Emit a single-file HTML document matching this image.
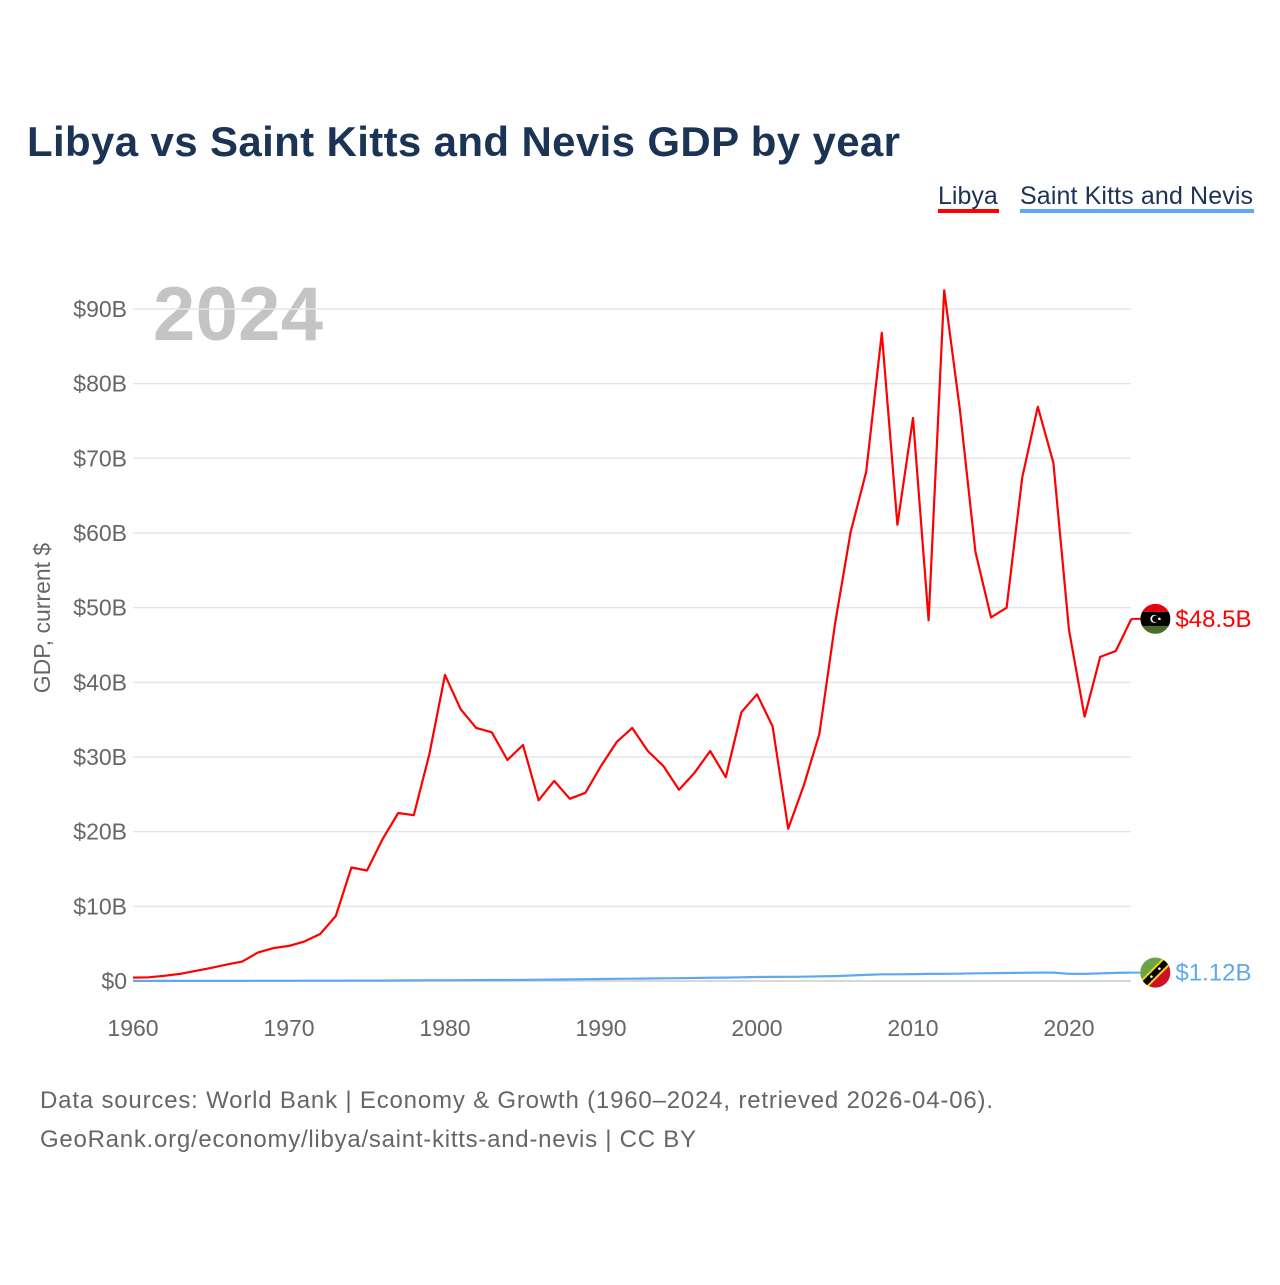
<!DOCTYPE html>
<html><head><meta charset="utf-8"><style>
body{margin:0;background:#fff;font-family:"Liberation Sans",sans-serif;}
svg text{font-family:"Liberation Sans",sans-serif;}
</style></head><body>
<svg id="chart" width="1280" height="1280" viewBox="0 0 1280 1280" xmlns="http://www.w3.org/2000/svg">
<text x="27" y="156" font-size="42" font-weight="bold" fill="#1b3355" textLength="873">Libya vs Saint Kitts and Nevis GDP by year</text>
<g><text x="938" y="204" font-size="25" fill="#1b3355">Libya</text><rect x="938" y="209" width="61" height="4" fill="#ff0000"/></g>
<g><text x="1020" y="204" font-size="25" fill="#1b3355" textLength="233">Saint Kitts and Nevis</text><rect x="1020" y="209" width="234" height="4" fill="#5ea8ee"/></g>
<text x="153" y="340" font-size="76" font-weight="bold" fill="#c4c4c4" textLength="170">2024</text>
<text transform="translate(50,618) rotate(-90)" text-anchor="middle" font-size="23" fill="#666">GDP, current $</text>
<g id="grid"></g><g id="xaxis"></g><g id="lines"></g><g id="labels"></g>
<text x="40" y="1108" font-size="24" fill="#666" textLength="953">Data sources: World Bank | Economy &amp; Growth (1960–2024, retrieved 2026-04-06).</text>
<text x="40" y="1147" font-size="24" fill="#666" textLength="656">GeoRank.org/economy/libya/saint-kitts-and-nevis | CC BY</text>
</svg>
<script>
const years=[];for(let y=1960;y<=2024;y++)years.push(y);
const libya=[0.45,0.5,0.7,0.95,1.35,1.75,2.2,2.6,3.8,4.4,4.7,5.3,6.3,8.7,15.2,14.8,19.0,22.5,22.2,30.4,41.0,36.4,33.9,33.3,29.6,31.6,24.2,26.8,24.4,25.2,28.8,32.0,33.9,30.8,28.8,25.6,27.9,30.8,27.3,36.0,38.4,34.1,20.4,26.2,33.1,47.8,60.1,68.2,86.8,61.1,75.4,48.3,92.5,76.6,57.5,48.7,50.0,67.4,76.9,69.4,47.0,35.4,43.4,44.2,48.5];
const skn=[0.013,0.014,0.015,0.016,0.017,0.018,0.019,0.02,0.022,0.025,0.03,0.035,0.04,0.045,0.05,0.055,0.06,0.07,0.08,0.09,0.1,0.11,0.12,0.13,0.14,0.15,0.17,0.19,0.21,0.24,0.27,0.29,0.31,0.33,0.36,0.38,0.4,0.44,0.46,0.5,0.53,0.55,0.56,0.57,0.61,0.65,0.74,0.82,0.9,0.9,0.92,0.95,0.96,0.98,1.03,1.05,1.07,1.1,1.12,1.13,0.96,0.95,1.02,1.08,1.12];
const yTicks=[0,10,20,30,40,50,60,70,80,90];
const xTicks=[1960,1970,1980,1990,2000,2010,2020];
const X=y=>133+(y-1960)*15.6, Y=v=>981-v*7.467;
const NS='http://www.w3.org/2000/svg';
function mk(tag,attrs,parent,txt){const e=document.createElementNS(NS,tag);for(const k in attrs)e.setAttribute(k,attrs[k]);if(txt!==undefined)e.textContent=txt;document.getElementById(parent).appendChild(e);return e;}
yTicks.forEach(t=>{
 const l=mk('line',{x1:133,x2:1131,y1:Y(t),y2:Y(t),stroke:t===0?'#ccc':'#e6e6e6','stroke-width':1.5},'grid');
 
 
 const tx=mk('text',{x:127,y:Y(t)+8,'text-anchor':'end','font-size':23,fill:'#666'},'grid','$'+t+(t?'B':''));
 
 
});
xTicks.forEach(t=>{
 const tx=mk('text',{x:X(t),y:1036,'text-anchor':'middle','font-size':23,fill:'#666'},'xaxis',String(t));
 
 
});
function path(d,c,w,name){const p=mk('path',{d:d.map((v,i)=>(i?'L':'M')+X(years[i]).toFixed(1)+','+Y(v).toFixed(1)).join(''),fill:'none',stroke:c,'stroke-width':w,'stroke-linejoin':'round'},'lines');
 
 }
path(skn,'#5ea8ee',2.2,'line-saint-kitts');
path(libya,'#ff0000',2.2,'line-libya');
function endLabel(v,c,txt,name,flag){const x=X(2024);const y=Y(v);
 const l=mk('line',{x1:x,x2:x+10,y1:y,y2:y,stroke:c,'stroke-width':2},'labels');
 
 
 const g=mk('g',{},'labels');
 
 
 g.innerHTML=flag(x+24,y);
 const t=mk('text',{x:x+44,y:y+8,'font-size':24,fill:c},'labels',txt);
 
 }
endLabel(libya[libya.length-1],'#ff0000','$48.5B','libya-end',(cx,cy)=>`<clipPath id="c1"><circle cx="${cx}" cy="${cy}" r="15"/></clipPath><g clip-path="url(#c1)"><rect x="${cx-15}" y="${cy-15}" width="30" height="8" fill="#e70013"/><rect x="${cx-15}" y="${cy-7}" width="30" height="15" fill="#000"/><rect x="${cx-15}" y="${cy+7}" width="30" height="8" fill="#4a6b2c"/><circle cx="${cx-1}" cy="${cy}" r="4" fill="#fff"/><circle cx="${cx}" cy="${cy}" r="3.3" fill="#000"/><circle cx="${cx+4}" cy="${cy}" r="1.3" fill="#fff"/></g>`);
endLabel(skn[skn.length-1],'#5ea8ee','$1.12B','skn-end',(cx,cy)=>`<clipPath id="c2"><circle cx="${cx}" cy="${cy}" r="15"/></clipPath><g clip-path="url(#c2)"><rect x="${cx-15}" y="${cy-15}" width="30" height="30" fill="#ce1126"/><polygon points="${cx-15},${cy-15} ${cx+15},${cy-15} ${cx-15},${cy+15}" fill="#6aa444"/><line x1="${cx-15}" y1="${cy+15}" x2="${cx+15}" y2="${cy-15}" stroke="#fcd116" stroke-width="10"/><line x1="${cx-15}" y1="${cy+15}" x2="${cx+15}" y2="${cy-15}" stroke="#000" stroke-width="6"/><circle cx="${cx-4}" cy="${cy+4}" r="1.3" fill="#fff"/><circle cx="${cx+4}" cy="${cy-4}" r="1.3" fill="#fff"/></g>`);
</script>
</body></html>
